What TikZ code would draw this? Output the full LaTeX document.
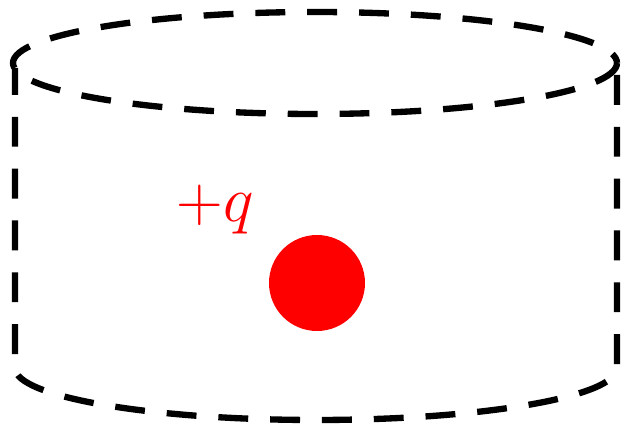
\documentclass[tikz,border=0pt]{standalone}
\begin{document}
\begin{tikzpicture}[x=.02cm,y=-.02cm,wall/.style={line width=3.6pt,dash pattern=on 17pt off 12.5pt}]
\useasboundingbox (0,0) rectangle (623,428);
\draw[wall] (315,63) ellipse (302 and 51);
\draw[wall] (617,75)--(617,368) arc (0:180:301 and 52)--(15,68);
\node[circle,fill=red,inner sep=0pt,minimum size=96*.02cm] (charge) at (317,283){};
\node[text=red,font=\Huge] (qlabel) at (215,210){\scalebox{1.48}{$+q$}};
\end{tikzpicture}
\end{document}
